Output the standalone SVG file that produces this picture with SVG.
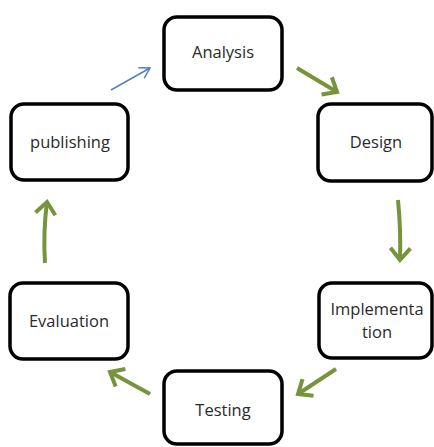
<svg xmlns="http://www.w3.org/2000/svg" width="434" height="447" viewBox="0 0 434 447">
<style>
.box{fill:#fff;stroke:#000;stroke-width:3.5}
.lbl{font-family:"Open Sans","Liberation Sans",sans-serif;font-size:16.5px;fill:#2a2a2a;text-anchor:middle}
.g{fill:none;stroke:#77933c;stroke-width:4}
.b{fill:none;stroke:#4f81bd;stroke-width:1.5}
</style>
<defs>
<marker id="ag" markerUnits="userSpaceOnUse" markerWidth="26" markerHeight="26" viewBox="0 0 26 26" refX="18" refY="13" orient="auto">
<path d="M6,3 L18,13 L6,23" fill="none" stroke="#77933c" stroke-width="4"/>
</marker>
<marker id="ab" markerUnits="userSpaceOnUse" markerWidth="20" markerHeight="20" viewBox="0 0 20 20" refX="14" refY="10" orient="auto">
<path d="M4,4 L14,10 L4,16" fill="none" stroke="#4f81bd" stroke-width="1.5"/>
</marker>
</defs>
<rect width="434" height="447" fill="#fff"/>
<g id="connectors">
<path class="b" d="M111,90 L150,68" marker-end="url(#ab)"/>
<path class="g" d="M297,68 L337,92" marker-end="url(#ag)"/>
<path class="g" d="M398,200 Q401,230 400,260" marker-end="url(#ag)"/>
<path class="g" d="M336,369 L298,394" marker-end="url(#ag)"/>
<path class="g" d="M150,394 L110,372" marker-end="url(#ag)"/>
<path class="g" d="M45,263 Q43,232 47,202" marker-end="url(#ag)"/>
</g>
<g id="analysis"><rect class="box" x="164" y="17" width="118" height="73" rx="13"/><text class="lbl" x="223" y="58">Analysis</text></g>
<g id="design"><rect class="box" x="318" y="104" width="114" height="77" rx="13"/><text class="lbl" x="376" y="148">Design</text></g>
<g id="implementation"><rect class="box" x="319" y="283" width="113" height="75" rx="13"/><text class="lbl" x="377" y="315">Implementa</text><text class="lbl" x="377" y="338">tion</text></g>
<g id="testing"><rect class="box" x="164" y="371" width="118" height="73" rx="13"/><text class="lbl" x="223" y="416">Testing</text></g>
<g id="evaluation"><rect class="box" x="10" y="283" width="118" height="76" rx="13"/><text class="lbl" x="69" y="327">Evaluation</text></g>
<g id="publishing"><rect class="box" x="11" y="104" width="117" height="76" rx="13"/><text class="lbl" x="70" y="148">publishing</text></g>
</svg>
